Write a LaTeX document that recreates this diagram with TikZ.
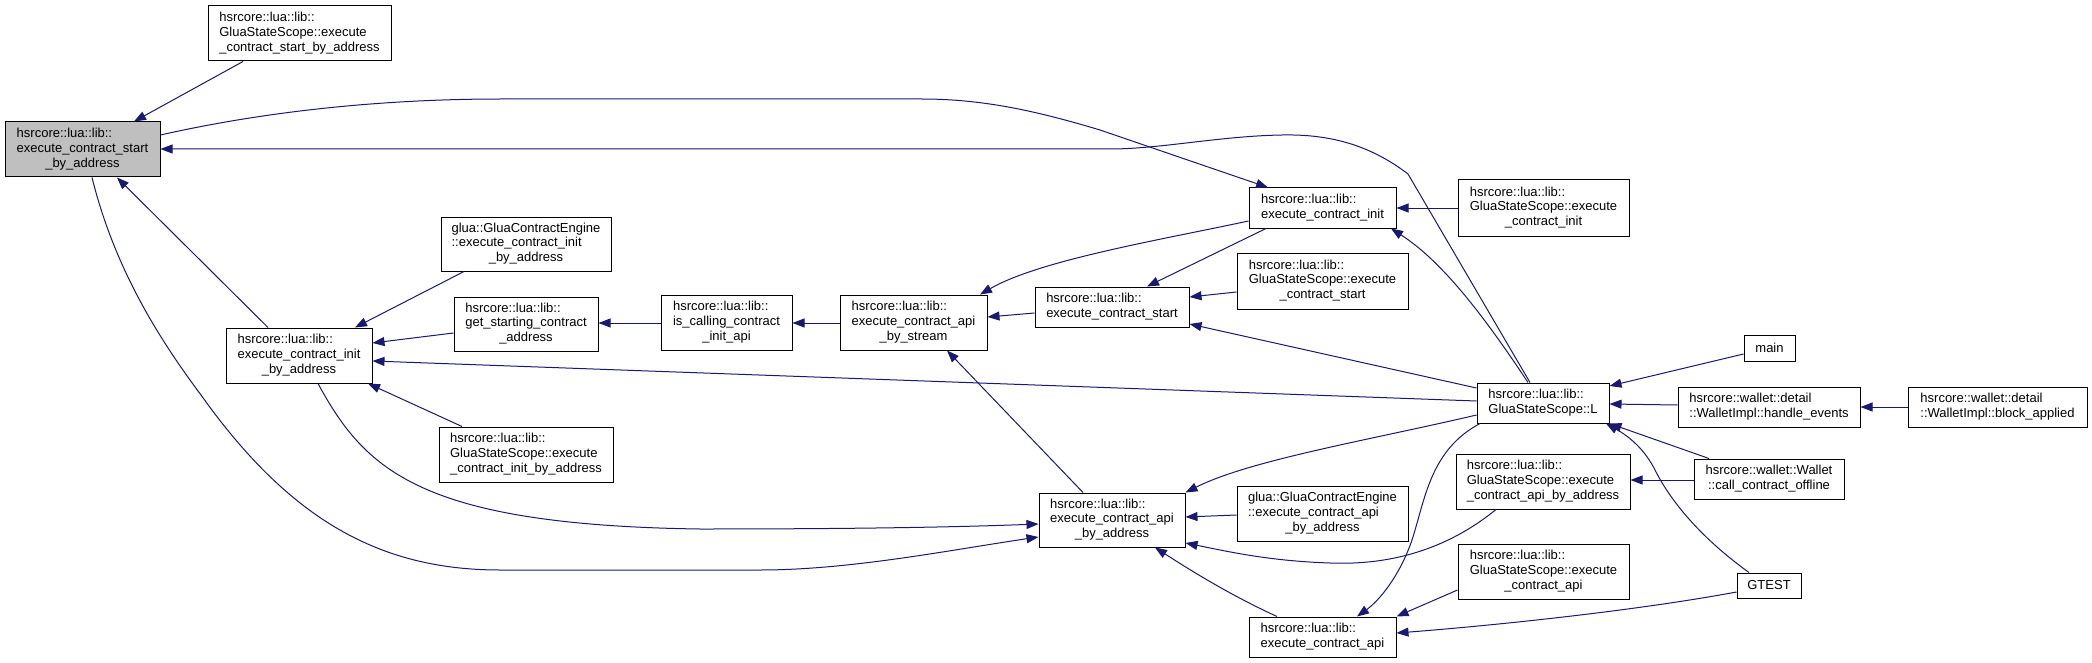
\documentclass[tikz,border=0pt]{standalone}
\usepackage{fontspec}
\setmainfont{Liberation Sans}
\usetikzlibrary{arrows.meta}
\definecolor{edgecol}{HTML}{191970}
\definecolor{maingray}{HTML}{BFBFBF}
\newcommand{\LinesII}[2]{\begin{tabular}{@{}l@{}}#1\\\multicolumn{1}{@{}c@{}}{#2}\end{tabular}}
\newcommand{\LinesIII}[3]{\begin{tabular}{@{}l@{}}#1\\#2\\\multicolumn{1}{@{}c@{}}{#3}\end{tabular}}
\begin{document}
\begin{tikzpicture}[x=1pt,y=-1pt,
  fn/.style={draw=black, line width=1pt, fill=white, inner sep=0pt, font=\fontsize{13}{14.7}\selectfont, align=center},
  calls/.style={draw=edgecol, line width=1pt, -{Triangle[length=12pt,width=9pt]}}]
\useasboundingbox[fill=white] (0,0) rectangle (2092,663);
% nodes
\node[fn, fill=maingray, minimum width=155pt, minimum height=55pt] (main) at (82.5,149.5) {\LinesIII{hsrcore::lua::lib::}{execute\_contract\_start}{\_by\_address}};
\node[fn, minimum width=183pt, minimum height=55pt] (gssecsba) at (299.5,33.5) {\LinesIII{hsrcore::lua::lib::}{GluaStateScope::execute}{\_contract\_start\_by\_address}};
\node[fn, minimum width=170pt, minimum height=54pt] (gluaecib) at (526,244) {\LinesIII{glua::GluaContractEngine}{::execute\_contract\_init}{\_by\_address}};
\node[fn, minimum width=144pt, minimum height=54pt] (gsc) at (526,324) {\LinesIII{hsrcore::lua::lib::}{get\_starting\_contract}{\_address}};
\node[fn, minimum width=146pt, minimum height=55pt] (ecib) at (299,355.5) {\LinesIII{hsrcore::lua::lib::}{execute\_contract\_init}{\_by\_address}};
\node[fn, minimum width=174pt, minimum height=55pt] (gssecib) at (526,454.5) {\LinesIII{hsrcore::lua::lib::}{GluaStateScope::execute}{\_contract\_init\_by\_address}};
\node[fn, minimum width=131pt, minimum height=55pt] (iscalling) at (726.5,322.5) {\LinesIII{hsrcore::lua::lib::}{is\_calling\_contract}{\_init\_api}};
\node[fn, minimum width=147pt, minimum height=55pt] (ecabs) at (913.5,322.5) {\LinesIII{hsrcore::lua::lib::}{execute\_contract\_api}{\_by\_stream}};
\node[fn, minimum width=154pt, minimum height=40pt] (ecs) at (1112,307) {\LinesII{hsrcore::lua::lib::}{execute\_contract\_start}};
\node[fn, minimum width=147pt, minimum height=40pt] (eci) at (1322.5,208) {\LinesII{hsrcore::lua::lib::}{execute\_contract\_init}};
\node[fn, minimum width=171pt, minimum height=56pt] (gsseci) at (1543.5,208) {\LinesIII{hsrcore::lua::lib::}{GluaStateScope::execute}{\_contract\_init}};
\node[fn, minimum width=171pt, minimum height=56pt] (gssecs) at (1322.5,281) {\LinesIII{hsrcore::lua::lib::}{GluaStateScope::execute}{\_contract\_start}};
\node[fn, minimum width=132pt, minimum height=40pt] (L) at (1543,403) {\LinesII{hsrcore::lua::lib::}{GluaStateScope::L}};
\node[fn, minimum width=51pt, minimum height=26pt] (mainfn) at (1769.5,348) {main};
\node[fn, minimum width=182pt, minimum height=40pt] (handle) at (1769,407) {\LinesII{hsrcore::wallet::detail}{::WalletImpl::handle\_events}};
\node[fn, minimum width=179pt, minimum height=40pt] (block) at (1997.5,407) {\LinesII{hsrcore::wallet::detail}{::WalletImpl::block\_applied}};
\node[fn, minimum width=150pt, minimum height=40pt] (cco) at (1769,479) {\LinesII{hsrcore::wallet::Wallet}{::call\_contract\_offline}};
\node[fn, minimum width=174pt, minimum height=55pt] (gssecaba) at (1543,481.5) {\LinesIII{hsrcore::lua::lib::}{GluaStateScope::execute}{\_contract\_api\_by\_address}};
\node[fn, minimum width=146pt, minimum height=54pt] (ecaba) at (1112,520) {\LinesIII{hsrcore::lua::lib::}{execute\_contract\_api}{\_by\_address}};
\node[fn, minimum width=171pt, minimum height=55pt] (gluaecaba) at (1322.5,513.5) {\LinesIII{glua::GluaContractEngine}{::execute\_contract\_api}{\_by\_address}};
\node[fn, minimum width=171pt, minimum height=55pt] (gsseca) at (1543.5,571.5) {\LinesIII{hsrcore::lua::lib::}{GluaStateScope::execute}{\_contract\_api}};
\node[fn, minimum width=147pt, minimum height=40pt] (eca) at (1322.5,637) {\LinesII{hsrcore::lua::lib::}{execute\_contract\_api}};
\node[fn, minimum width=64pt, minimum height=25pt] (gtest) at (1769,585.5) {GTEST};
% edges
\draw[calls] (gssecsba.south -| 243,0) -- (main.north -| 134,0);
\draw[calls] (main.east |- 0,135) .. controls (280,108) and (400,99) .. (501,99) -- (922,99) .. controls (985,99) and (1040,112) .. (1100,130) -- (eci.north -| 1268,0);
\draw[calls] (L.north -| 1530,0) -- (1408,174) .. controls (1370,145) and (1330,134) .. (1282,135) .. controls (1220,136) and (1160,149) .. (1110,149) -- (main.east |- 0,149);
\draw[calls] (ecib.north -| 268,0) -- (main.south -| 117,0);
\draw[calls] (main.south -| 92,0) .. controls (115,270) and (160,340) .. (201,395) .. controls (290,520) and (380,570) .. (500,570) -- (760,570) .. controls (850,570) and (950,550) .. (ecaba.west |- 0,537);
\draw[calls] (ecib.south -| 318,0) .. controls (365,470) and (420,525) .. (700,529) .. controls (860,529) and (960,527) .. (ecaba.west |- 0,524);
\draw[calls] (gluaecib.south -| 464,0) -- (ecib.north -| 355,0);
\draw[calls] (gsc.west |- 0,333) -- (ecib.east |- 0,343);
\draw[calls] (L.west |- 0,401) -- (ecib.east |- 0,361);
\draw[calls] (gssecib.north -| 462,0) -- (ecib.south -| 368,0);
\draw[calls] (iscalling.west |- 0,323) -- (gsc.east |- 0,323);
\draw[calls] (ecabs.west |- 0,323) -- (iscalling.east |- 0,323);
\draw[calls] (ecs.west |- 0,313) -- (ecabs.east |- 0,317);
\draw[calls] (eci.west |- 0,221) .. controls (1160,240) and (1040,260) .. (ecabs.north -| 980,0);
\draw[calls] (eci.south -| 1266,0) -- (ecs.north -| 1147,0);
\draw[calls] (gssecs.west |- 0,292) -- (ecs.east |- 0,297);
\draw[calls] (L.west |- 0,388) -- (ecs.east |- 0,324);
\draw[calls] (gsseci.west |- 0,208) -- (eci.east |- 0,208);
\draw[calls] (L.north -| 1528,0) .. controls (1480,310) and (1440,260) .. (eci.south -| 1391,0);
\draw[calls] (L.west |- 0,415) .. controls (1370,440) and (1250,460) .. (ecaba.north east);
\draw[calls] (gluaecaba.west |- 0,515) -- (ecaba.east |- 0,517);
\draw[calls] (gssecaba.south -| 1496,0) .. controls (1440,555) and (1380,565) .. (1330,563) .. controls (1270,561) and (1230,552) .. (ecaba.east |- 0,543);
\draw[calls] (eca.north -| 1277,0) .. controls (1230,595) and (1190,570) .. (ecaba.south -| 1155,0);
\draw[calls] (L.south -| 1480,0) .. controls (1430,450) and (1425,500) .. (1412,540) .. controls (1400,575) and (1380,600) .. (eca.north -| 1357,0);
\draw[calls] (gsseca.west |- 0,590) -- (eca.north east);
\draw[calls] (gtest.west |- 0,592) .. controls (1640,610) and (1500,625) .. (eca.east |- 0,633);
\draw[calls] (mainfn.west |- 0,354) -- (L.east |- 0,386);
\draw[calls] (handle.west |- 0,405) -- (L.east |- 0,404);
\draw[calls] (block.west |- 0,407) -- (handle.east |- 0,407);
\draw[calls] (cco.north -| 1709,0) -- (L.south east);
\draw[calls] (cco.west |- 0,480) -- (gssecaba.east |- 0,480);
\draw[calls] (gtest.north -| 1749,0) .. controls (1690,530) and (1665,490) .. (1655,470) .. controls (1645,450) and (1630,437) .. (L.south -| 1606,0);
\draw[calls] (ecaba.north -| 1083,0) -- (ecabs.south -| 947,0);
\end{tikzpicture}
\end{document}
